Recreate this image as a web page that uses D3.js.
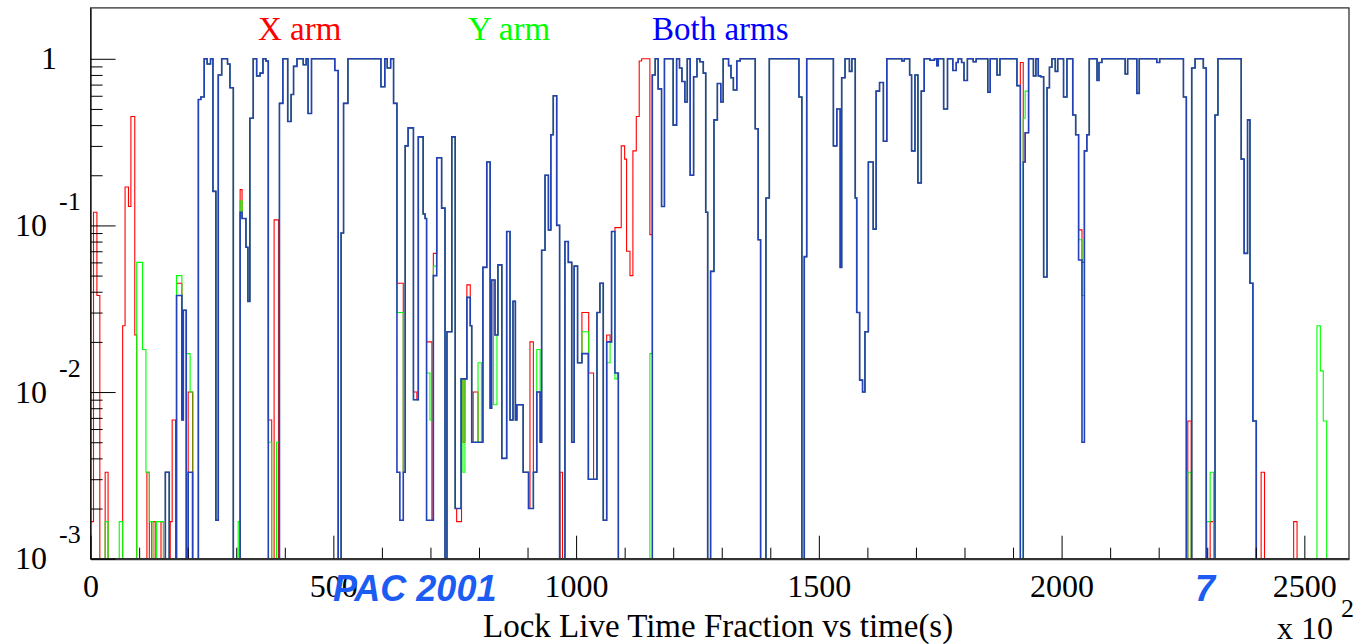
<!DOCTYPE html>
<html>
<head>
<meta charset="utf-8">
<script src="https://cdn.jsdelivr.net/npm/d3@7"></script>
<style>
  body { margin: 0; background: #fff; }
  svg { display: block; }
  .axis text { font-family: "Liberation Serif", "Times New Roman", serif; }
</style>
</head>
<body>
<script>
// lock live time fraction, time in units of 100 s, one step per [start, value]
const bothArms = [
  [0,0],[154,0.0033],[162,0],[177,0.038],[188,0.0068],[191,0.031],[197,0],[201,0.0033],[210,0],
  [222,0.57],[227,0.59],[234,1],[240,0.93],[247,1],[252,0.16],[258,0.0017],[263,0.8],[270,1],[282,0.93],[287,0.67],[294,0],
  [308,0.12],[312,0.11],[320,0.074],[324,0.035],[328,0.44],[335,1],[342,0.79],[349,0.82],[355,1],[361,0.97],[366,0],
  [389,0.54],[396,1],[406,0.42],[413,0.61],[418,0.9],[425,1],[438,0.92],[444,1],[448,0.47],[455,1],[503,0.85],[510,0],
  [516,0.09],[521,0.54],[530,1],[598,0.68],[606,1],[611,0.88],[618,1],[624,0.54],[631,0.0033],[637,0.0017],[644,0.0033],
  [648,0.3],[654,0.385],[665,0.009],[675,0.34],[685,0.117],[689,0.11],[692,0.0017],[706,0.05],[713,0.255],[723,0.127],
  [730,0],[734,0.023],[744,0.34],[751,0.002],[763,0.012],[775,0.037],[782,0.025],[785,0.005],[808,0.056],[816,0.24],
  [823,0.008],[826,0.047],[833,0.022],[839,0.058],[847,0.004],[857,0.092],[864,0.0068],[870,0.035],[875,0.0068],[878,0.0084],
  [891,0.0033],[902,0.002],[912,0.0033],[919,0.01],[926,0.005],[929,0.071],[936,0.2],[943,0.094],[948,0.35],[953,0.6],
  [960,0.1],[966,0],[977,0.08],[984,0.06],[991,0.005],[996,0.057],[1003,0.015],[1012,0.017],[1025,0.003],[1043,0.03],
  [1049,0.045],[1056,0.0017],[1063,0.02],[1073,0.092],[1080,0.013],[1087,0],
  [1157,0.8],[1163,1],[1169,0.66],[1176,0.13],[1182,1],[1200,0.4],[1207,1],[1213,0.88],[1218,0.73],[1224,0.55],[1229,1],
  [1235,0.2],[1242,0.78],[1249,1],[1255,0.96],[1262,0.82],[1267,0.12],[1271,0],[1277,0.053],[1284,0.43],[1291,0.71],
  [1298,0.55],[1303,1],[1314,0.91],[1319,0.77],[1324,0.65],[1331,0.97],[1338,1],[1369,0.38],[1375,0.082],[1380,0],
  [1391,0.146],[1398,1],[1459,0.59],[1465,0],[1470,0.065],[1475,1],[1530,0.3],[1537,0.5],[1544,0.056],[1547,0.77],
  [1554,1],[1563,0.84],[1568,1],[1575,0.146],[1578,0.03],[1584,0.0118],[1590,0.01],[1595,0.023],[1602,0.24],[1612,0.095],
  [1618,0.64],[1625,0.72],[1633,0.32],[1640,1],[1671,0.97],[1676,1],[1687,0.8],[1691,0.28],[1698,0.8],[1704,0.18],
  [1711,0.64],[1717,1],[1729,0.98],[1738,1],[1743,0.91],[1746,1],[1757,0.5],[1765,1],[1776,0.85],[1783,0.95],[1787,1],
  [1794,0.95],[1799,0.74],[1806,1],[1818,0.96],[1824,1],[1848,0.63],[1853,1],[1867,0.8],[1873,1],[1908,0.69],[1915,0],
  [1921,0.24],[1925,0.36],[1932,1],[1942,0.79],[1947,1],[1952,0.79],[1957,0.78],[1963,0.049],[1970,0.67],[1975,0.89],
  [1980,1],[1987,0.84],[1992,1],[2004,0.59],[2011,1],[2023,0.46],[2029,0.35],[2035,0.062],[2042,0.005],[2047,0.28],
  [2052,0.35],[2057,1],[2073,0.74],[2077,0.95],[2083,1],[2131,0.81],[2136,1],[2155,0.62],[2160,1],[2196,0.95],[2202,1],
  [2251,0.59],[2257,0],[2268,0.88],[2275,1],[2292,0.88],[2298,0],[2316,0.46],[2322,1],[2370,0.25],[2376,0.068],
  [2383,0.43],[2388,0.045],[2394,0.0067],[2401,0]
];

// where one arm alone was locked longer than both: [from, to, value]
const xArmOnly = [
  [0,6,0.00167],[6,13,0.12],[13,19,0.038],[30,36,0.0033],[66,71,0.025],[71,78,0.17],[78,83,0.13],[83,91,0.45],
  [91,95,0.022],[116,121,0.0033],[126,133,0.00167],[145,150,0.00167],[164,168,0.00167],[168,175,0.0068],[177,188,0.045],
  [201,210,0.01],[308,312,0.164],[366,373,0.0068],[378,387,0.108],[631,644,0.045],[665,672,0.01],[692,703,0.02],
  [706,713,0.068],[754,764,0.00167],[767,771,0.005],[775,782,0.044],[788,798,0.01],[905,912,0.02],[967,972,0.0033],
  [1012,1026,0.03],[1026,1036,0.013],[1063,1070,0.022],[1080,1093,0.097],[1093,1100,0.3],[1100,1104,0.25],
  [1104,1111,0.07],[1111,1117,0.05],[1117,1124,0.28],[1124,1130,0.45],[1130,1135,0.97],[1135,1152,1],[1152,1157,0.088],
  [1915,1921,0.95],[2035,2042,0.094],[2042,2047,0.06],[2260,2267,0.0067],[2306,2316,0.00167],[2411,2418,0.0033],
  [2478,2485,0.00167]
];

const yArmOnly = [
  [30,36,0.00167],[59,66,0.00167],[95,107,0.06],[107,114,0.018],[114,121,0.0033],[121,129,0.00167],[136,150,0.00167],
  [177,188,0.05],[188,197,0.031],[197,205,0.017],[205,211,0.01],[304,308,0.00167],[308,312,0.14],[366,373,0.005],
  [383,389,0.005],[631,644,0.03],[692,699,0.013],[699,706,0.0068],[706,713,0.057],[767,771,0.0033],[798,805,0.015],
  [830,837,0.0084],[881,891,0.0084],[919,926,0.018],[1012,1026,0.023],[1063,1070,0.015],[1080,1085,0.012],
  [1152,1157,0.017],[1921,1925,0.44],[1925,1932,0.64],[2035,2042,0.082],[2042,2047,0.038],[2260,2267,0.0033],
  [2299,2306,0.00167],[2306,2313,0.0033],[2526,2533,0.025],[2533,2539,0.0134],[2539,2546,0.0067]
];

const timeRange = [0, 2592];
const seriesNames = ["X arm", "Y arm", "Both arms"];
const seriesColors = ["#ff0000", "#00ff00", "#0000ff"];
const xMajorTicks = [0, 500, 1000, 1500, 2000, 2500];
const yMajorTicks = [1, 0.1, 0.01, 0.001];
const yTickLabels = [["1", ""], ["10", "-1"], ["10", "-2"], ["10", "-3"]];

const W = 1356, H = 644;
const margin = { top: 7.9, right: 7, bottom: 85.3, left: 90.6 };
const serif = '"Liberation Serif", "Times New Roman", serif';

const svg = d3.select("body").append("svg")
    .attr("width", W)
    .attr("height", H);

svg.append("rect").attr("width", W).attr("height", H).attr("fill", "#fff");

const x = d3.scaleLinear()
    .domain(timeRange)
    .range([margin.left, W - margin.right]);

const y = d3.scaleLog()
    .domain([0.001, 2.02])
    .range([H - margin.bottom, margin.top])
    .clamp(true);

// step value at time t
function valueAt(steps, t) {
  let v = steps[0][1];
  for (const s of steps) {
    if (s[0] <= t) v = s[1]; else break;
  }
  return v;
}

// both-arms steps with the single-arm segments laid over them
function withOverrides(base, extra) {
  const cuts = new Set(base.map(d => d[0]));
  extra.forEach(e => { cuts.add(e[0]); cuts.add(e[1]); });
  return Array.from(cuts).sort((a, b) => a - b).map(t => {
    const o = extra.find(e => t >= e[0] && t < e[1]);
    return [t, o ? o[2] : valueAt(base, t)];
  });
}

function closeSteps(steps) {
  return steps.concat([[timeRange[1], steps[steps.length - 1][1]]]);
}

const allSeries = [
  closeSteps(withOverrides(bothArms, xArmOnly)),
  closeSteps(withOverrides(bothArms, yArmOnly)),
  closeSteps(bothArms)
];

const line = d3.line()
    .x(d => x(d[0]))
    .y(d => y(Math.max(d[1], 0.001)))
    .curve(d3.curveStepAfter);

const plot = svg.append("g");

// both arms drawn last, slightly heavier (it sits on the other two)
plot.selectAll("path")
  .data(allSeries)
  .join("path")
    .attr("fill", "none")
    .attr("stroke", (d, i) => i == 2 ? "#2341b8" : seriesColors[i])
    .attr("stroke-width", (d, i) => i == 2 ? 1.6 : 1.1)
    .attr("d", line);

// frame
svg.append("rect")
    .attr("x", margin.left)
    .attr("y", margin.top)
    .attr("width", W - margin.left - margin.right)
    .attr("height", H - margin.top - margin.bottom)
    .attr("fill", "none")
    .attr("stroke", "#222")
    .attr("stroke-width", 1.2);

// x axis, ticks pointing inwards
const xMinor = d3.range(0, 2592, 100).filter(t => t % 500 != 0);

svg.append("g")
    .attr("class", "axis")
    .attr("transform", `translate(0,${H - margin.bottom})`)
    .call(d3.axisBottom(x).tickValues(xMinor).tickSizeInner(-11).tickSizeOuter(0).tickFormat(""))
    .call(g => g.select(".domain").remove());

svg.append("g")
    .attr("class", "axis")
    .attr("transform", `translate(0,${H - margin.bottom})`)
    .call(d3.axisBottom(x).tickValues(xMajorTicks).tickSizeInner(-23).tickSizeOuter(0)
        .tickPadding(16).tickFormat(d3.format("d")))
    .call(g => g.select(".domain").attr("stroke", "#333").attr("stroke-width", 2))
    .call(g => g.selectAll("text").attr("font-size", 32).attr("fill", "#000"));

// y axis
const yMinor = [];
[0.001, 0.01, 0.1].forEach(dec => d3.range(2, 10).forEach(k => yMinor.push(dec * k)));

svg.append("g")
    .attr("class", "axis")
    .attr("transform", `translate(${margin.left},0)`)
    .call(d3.axisLeft(y).tickValues(yMinor).tickSizeInner(-12).tickSizeOuter(0).tickFormat(""))
    .call(g => g.select(".domain").remove());

svg.append("g")
    .attr("class", "axis")
    .attr("transform", `translate(${margin.left},0)`)
    .call(d3.axisLeft(y).tickValues(yMajorTicks).tickSizeInner(-25).tickSizeOuter(0).tickFormat(""))
    .call(g => g.select(".domain").attr("stroke", "#111"));

const yLab = svg.append("g")
    .attr("font-family", serif)
    .attr("fill", "#000");

yMajorTicks.forEach((v, i) => {
  const [base, exp] = yTickLabels[i];
  if (exp == "") {
    yLab.append("text").attr("x", 57).attr("y", y(v) + 10.5)
        .attr("text-anchor", "end").attr("font-size", 32).text(base);
  } else {
    yLab.append("text").attr("x", 15).attr("y", y(v) + 10.5)
        .attr("font-size", 32).text(base);
    yLab.append("text").attr("x", 59).attr("y", y(v) - 15.5)
        .attr("font-size", 26).text(exp);
  }
});

// titles
const legendX = [258, 468, 652];
svg.append("g")
  .selectAll("text")
  .data(seriesNames)
  .join("text")
    .attr("x", (d, i) => legendX[i])
    .attr("y", 40)
    .attr("font-family", serif)
    .attr("font-size", 33)
    .attr("fill", (d, i) => seriesColors[i])
    .text(d => d);

svg.append("text")
    .attr("x", 483).attr("y", 637)
    .attr("font-family", serif).attr("font-size", 33)
    .text("Lock Live Time Fraction vs time(s)");

svg.append("text")
    .attr("x", 1277).attr("y", 639)
    .attr("font-family", serif).attr("font-size", 32)
    .text("x 10");
svg.append("text")
    .attr("x", 1341).attr("y", 617)
    .attr("font-family", serif).attr("font-size", 26)
    .text("2");

// conference stamp
const stamp = svg.append("g")
    .attr("font-family", '"Liberation Sans", Arial, sans-serif')
    .attr("font-weight", "bold")
    .attr("font-style", "italic")
    .attr("font-size", 36)
    .attr("fill", "#1c5cf2");
stamp.append("text").attr("x", 333).attr("y", 601).text("PAC 2001");
stamp.append("text").attr("x", 1195).attr("y", 601).text("7");
</script>
</body>
</html>
